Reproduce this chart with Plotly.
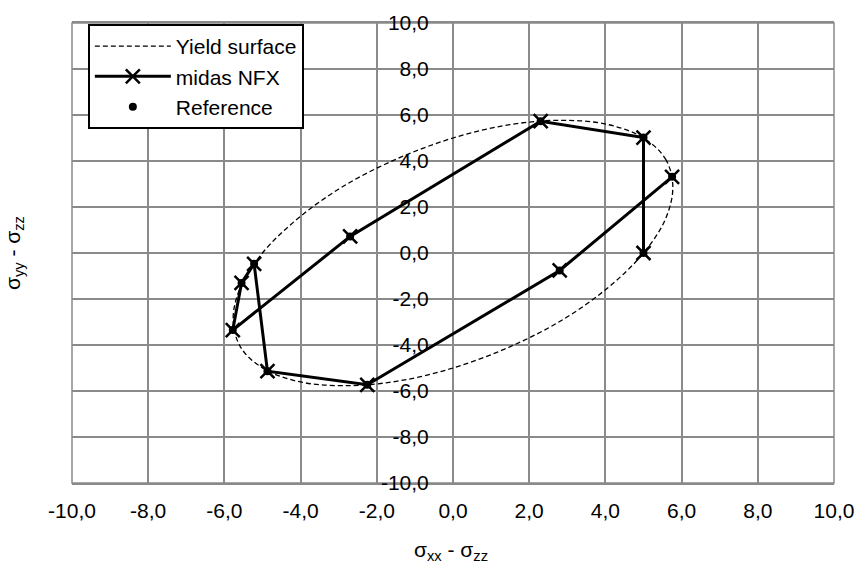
import plotly.graph_objects as go

# Yield surface
yield_x = [5.00, 5.58, 5.77, 5.58, 5.00, 4.08, 2.89, 1.49, 0.00, -1.49, -2.89, -4.08,
           -5.00, -5.58, -5.77, -5.58, -5.00, -4.08, -2.89, -1.49, 0.00, 1.49, 2.89, 4.08, 5.00]
yield_y = [5.00, 4.08, 2.89, 1.49, 0.00, -1.49, -2.89, -4.08, -5.00, -5.58, -5.77, -5.58,
           -5.00, -4.08, -2.89, -1.49, 0.00, 1.49, 2.89, 4.08, 5.00, 5.58, 5.77, 5.58, 5.00]

# midas NFX path
nfx_x = [5.00, 5.00, 2.30, -2.70, -5.78, -5.55, -5.22, -4.87, -2.25, 2.80, 5.75]
nfx_y = [0.00, 5.02, 5.73, 0.72, -3.35, -1.30, -0.47, -5.14, -5.73, -0.76, 3.31]

# Reference points
ref_x = [5.00, 5.00, 2.30, -2.70, -5.78, -5.55, -5.22, -4.87, -2.25, 2.80, 5.75]
ref_y = [0.00, 5.02, 5.73, 0.72, -3.35, -1.30, -0.47, -5.14, -5.73, -0.76, 3.31]

tick_vals = [-10, -8, -6, -4, -2, 0, 2, 4, 6, 8, 10]
tick_text = ["-10,0", "-8,0", "-6,0", "-4,0", "-2,0", "0,0", "2,0", "4,0", "6,0", "8,0", "10,0"]

FONT = "Liberation Sans, Arial, sans-serif"
grid = "#8a8a8a"

fig = go.Figure()
fig.add_trace(go.Scatter(x=yield_x, y=yield_y, mode="lines", name="Yield surface",
                         line=dict(color="black", width=1.3, dash="5px,3px",
                                   shape="spline", smoothing=1.0)))
fig.add_trace(go.Scatter(x=nfx_x, y=nfx_y, mode="lines+markers", name="midas NFX",
                         line=dict(color="black", width=3),
                         marker=dict(symbol="x-thin", size=14, color="black",
                                     line=dict(color="black", width=2.5))))
fig.add_trace(go.Scatter(x=ref_x, y=ref_y, mode="markers", name="Reference",
                         marker=dict(symbol="circle", size=8, color="black")))

fig.update_layout(
    width=865, height=575,
    margin=dict(l=72, r=22, t=11, b=92),
    paper_bgcolor="white", plot_bgcolor="white",
    font=dict(family=FONT, size=21, color="black"),
    showlegend=True,
    legend=dict(x=0.0208, y=0.998, xanchor="left", yanchor="top",
                bgcolor="white", bordercolor="black", borderwidth=2,
                font=dict(size=21), itemwidth=76, tracegroupgap=0),
    xaxis=dict(range=[-10, 10], tickvals=tick_vals, ticktext=tick_text,
               showgrid=True, gridcolor=grid, gridwidth=1.5,
               zeroline=False, showline=True, linecolor=grid, linewidth=1.5, mirror=True,
               ticks="outside", ticklen=8, tickcolor="rgba(0,0,0,0)",
               tickfont=dict(size=21)),
    yaxis=dict(range=[-10, 10], tickvals=tick_vals, ticktext=tick_text,
               showgrid=True, gridcolor=grid, gridwidth=1.5,
               zeroline=False, showline=False,
               anchor="free", position=0.5,
               ticks="outside", ticklen=20, tickcolor="rgba(0,0,0,0)",
               tickfont=dict(size=21)),
    shapes=[dict(type="rect", xref="paper", yref="paper", x0=0, y0=0, x1=1, y1=1,
                 line=dict(color=grid, width=1.5), layer="below")],
    annotations=[
        dict(text="σ<sub>xx</sub> - σ<sub>zz</sub>", xref="paper", yref="paper",
             x=0.497, y=-0.148, xanchor="center", yanchor="middle",
             showarrow=False, font=dict(size=21)),
        dict(text="σ<sub>yy</sub> - σ<sub>zz</sub>", xref="paper", yref="paper",
             x=-0.076, y=0.5, xanchor="center", yanchor="middle", textangle=-90,
             showarrow=False, font=dict(size=21)),
    ],
)

fig.write_html("out.html", config={"displayModeBar": False},
               post_script="document.body.style.margin='0';document.body.style.overflow='hidden';")
